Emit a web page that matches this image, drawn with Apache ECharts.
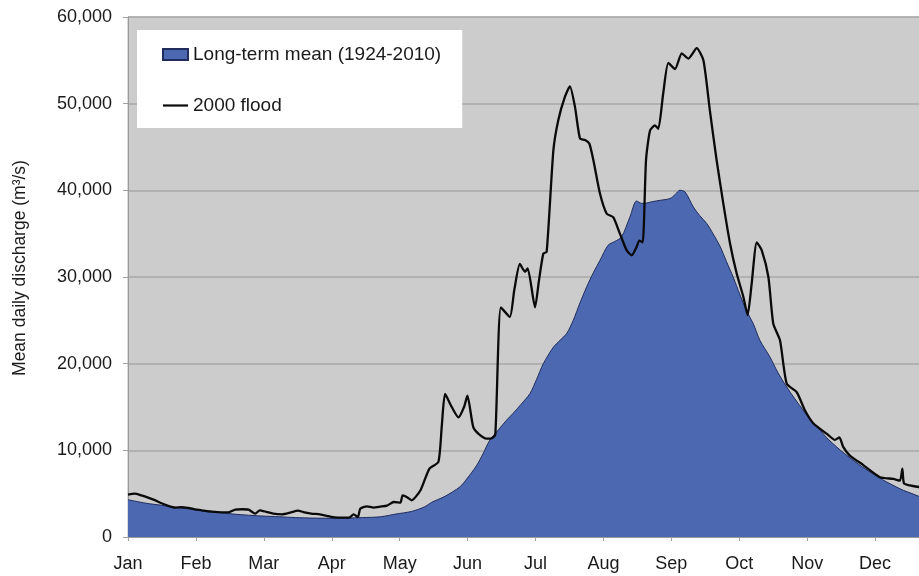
<!DOCTYPE html>
<html>
<head>
<meta charset="utf-8">
<title>Mean daily discharge</title>
<script src="https://cdn.jsdelivr.net/npm/echarts@6/dist/echarts.min.js"></script>
<style>
  html, body { margin: 0; padding: 0; background: #ffffff; overflow: hidden; }
  #chart { width: 919px; height: 576px; }
</style>
</head>
<body>
<div id="chart"></div>
<script>
// Month labels along the day-of-year axis
const monthLabels = ['Jan', 'Feb', 'Mar', 'Apr', 'May', 'Jun', 'Jul', 'Aug', 'Sep', 'Oct', 'Nov', 'Dec'];

// Long-term mean daily discharge (1924-2010), m3/s, by day of year
const meanDays = [0, 8, 15, 22, 30, 38, 45, 52, 60, 68, 75, 83, 90, 98, 105, 113, 120, 127, 133, 136,
  142, 148.7, 152, 156, 159, 162, 166, 169.6, 172.6, 176, 180, 183, 186, 190.5, 193.5, 196.5, 199.4,
  202.4, 205.4, 208.4, 211.4, 215, 218, 221, 224.8, 227.8, 230, 232.3, 235, 238.3, 242.7, 245, 247.2,
  249.5, 253.2, 256, 259.2, 262, 265.1, 268, 271, 274, 277, 280, 283, 287.5, 291, 295, 298.5, 302.4,
  306, 310, 313.5, 317.4, 321, 324.8, 328.5, 332.3, 336, 339.8, 343.5, 347.2, 350.7, 354.2, 360, 365];
const meanValues = [4300, 3900, 3660, 3400, 3160, 2950, 2700, 2550, 2420, 2330, 2240, 2180, 2160, 2180, 2240, 2330, 2650, 2950, 3500, 4000,
  4700, 5800, 6800, 8200, 9600, 11160, 12400, 13500, 14300, 15300, 16550, 18200, 20000, 21900, 22700, 23500, 25000,
  27000, 28850, 30500, 31930, 33660, 34100, 34620, 36930, 38770, 38500, 38540, 38700, 38850, 39050, 39500, 40010,
  39810, 38080, 37100, 36170, 35000, 33570, 31800, 30010, 28000, 26100, 24630, 22700, 20770, 19000, 17310, 16000, 14620,
  13400, 12310, 11300, 10390, 9600, 8850, 8150, 7500, 6900, 6350, 5850, 5390, 5050, 4700, 4300, 4000];

// 2000 flood daily discharge, m3/s, by day of year
const floodDays = [0, 3, 6, 9, 12, 15, 18, 21, 24, 27, 30, 33, 36, 39, 42, 45, 48, 51, 54, 57,
  59, 62, 65, 69, 73, 76, 79, 82, 86, 89, 91, 94, 97, 99, 101, 103, 104, 107, 110, 113,
  116, 119, 122, 123, 125, 127, 131, 135, 139, 140.5, 142, 145, 148, 150.5, 152, 154.6, 157, 160.6, 163, 164.5,
  167, 171, 173, 175.5, 177.8, 179, 182.3, 184, 186, 187.5, 190.5, 192.7, 195.7, 197.9, 200.2, 202.4, 204.7, 206.6, 208.4, 211.4,
  214.4, 217.3, 220.3, 223.3, 225.6, 227.8, 229, 230.5, 232, 233.8, 236, 237.5, 239.7, 242, 245, 248, 251, 254.7, 257.7, 260.6,
  263.6, 266.6, 269.6, 272.6, 275.6, 277.5, 279.3, 281.6, 283.8, 286.8, 289, 292, 295, 299.5, 303.2, 307, 313, 316.6, 318.6, 320.3,
  323.3, 329.3, 336.8, 342.7, 345.7, 346.8, 347.5, 350.2, 354.2, 360, 365];
const floodValues = [4900, 5000, 4800, 4550, 4250, 3900, 3600, 3400, 3450, 3350, 3200, 3080, 2950, 2890, 2850, 2850, 3150, 3200, 3150, 2700,
  3080, 2900, 2700, 2620, 2850, 3040, 2850, 2700, 2620, 2450, 2310, 2230, 2230, 2230, 2600, 2310, 3270, 3540, 3390, 3500,
  3620, 4040, 3970, 4800, 4600, 4230, 5400, 7900, 8650, 12700, 16500, 15000, 13800, 15000, 16300, 12700, 11900, 11350, 11400, 11800,
  26500, 25400, 28500, 31500, 30600, 31000, 26500, 29500, 32700, 32900, 44600, 48100, 50800, 52000, 49600, 46000, 45800, 45400, 43500, 39600,
  37300, 36900, 35000, 33100, 32500, 33500, 34200, 34000, 43500, 46900, 47500, 47100, 51200, 54700, 54000, 55800, 55200, 56400, 55000, 49200,
  43500, 38500, 33900, 30400, 27700, 25600, 29200, 34000, 33100, 30000, 24600, 22700, 17700, 16700, 14600, 13100, 11900, 11200, 11500, 10400,
  9400, 8300, 6900, 6700, 6500, 7900, 6200, 5950, 5770, 5650, 5550];

const pairs = (xs, ys) => xs.map((x, i) => [x, ys[i]]);
const monthStep = 365 / 12;
const textFont = 'Liberation Sans, Arial, Helvetica, sans-serif';

const chart = echarts.init(document.getElementById('chart'), null, { renderer: 'canvas' });

chart.setOption({
  animation: false,
  backgroundColor: '#ffffff',
  grid: {
    left: 128,
    top: 17,
    right: -24,
    bottom: 39,
    outerBoundsMode: 'none',
    containLabel: false,
    show: true,
    backgroundColor: '#cccccc',
    borderColor: '#b4b4b4',
    borderWidth: 1
  },
  legend: {
    orient: 'vertical',
    left: 137,
    top: 30,
    backgroundColor: '#ffffff',
    padding: [15, 21, 13, 25],
    itemGap: 32,
    itemWidth: 25,
    itemHeight: 11,
    itemTextGap: 5,
    textStyle: { fontFamily: textFont, fontSize: 19, color: '#1a1a1a', lineHeight: 17 },
    data: [
      { name: 'Long-term mean (1924-2010)', icon: 'rect' },
      { name: '2000 flood', icon: 'path://M0,0 L25,0 L25,2.2 L0,2.2 Z' }
    ]
  },
  xAxis: {
    type: 'value',
    min: 0,
    max: 365,
    interval: monthStep,
    splitLine: { show: false },
    axisLine: { show: true, lineStyle: { color: '#9a9a9a', width: 1 } },
    axisTick: { show: true, length: 4, lineStyle: { color: '#a0a0a0' } },
    axisLabel: {
      margin: 18,
      fontFamily: textFont,
      fontSize: 18,
      color: '#1a1a1a',
      formatter: v => monthLabels[Math.round(v / monthStep)] || ''
    }
  },
  yAxis: {
    type: 'value',
    min: 0,
    max: 60000,
    interval: 10000,
    name: 'Mean daily discharge (m³/s)',
    nameLocation: 'middle',
    nameGap: 99,
    nameTextStyle: { fontFamily: textFont, fontSize: 17.5, color: '#1a1a1a', padding: [0, 0, 0, 18] },
    axisLine: { show: true, lineStyle: { color: '#9a9a9a', width: 1 } },
    axisTick: { show: true, length: 5, lineStyle: { color: '#a0a0a0' } },
    splitLine: { show: true, lineStyle: { color: '#a8a8a8', width: 1.5 } },
    axisLabel: {
      margin: 16,
      fontFamily: textFont,
      fontSize: 18,
      color: '#1a1a1a',
      formatter: v => v.toLocaleString('en-US')
    }
  },
  series: [
    {
      name: 'Long-term mean (1924-2010)',
      type: 'line',
      data: pairs(meanDays, meanValues),
      showSymbol: false,
      symbol: 'none',
      smooth: 0.3,
      lineStyle: { color: '#1f2c5c', width: 1 },
      itemStyle: { color: '#4b68b1', borderColor: '#1f2c5c', borderWidth: 1 },
      areaStyle: { color: '#4b68b1', opacity: 1 },
      z: 2
    },
    {
      name: '2000 flood',
      type: 'line',
      data: pairs(floodDays, floodValues),
      showSymbol: false,
      symbol: 'none',
      smooth: 0.2,
      lineStyle: { color: '#0a0a0a', width: 2.3 },
      itemStyle: { color: '#0a0a0a' },
      z: 3
    }
  ]
});
</script>
</body>
</html>
